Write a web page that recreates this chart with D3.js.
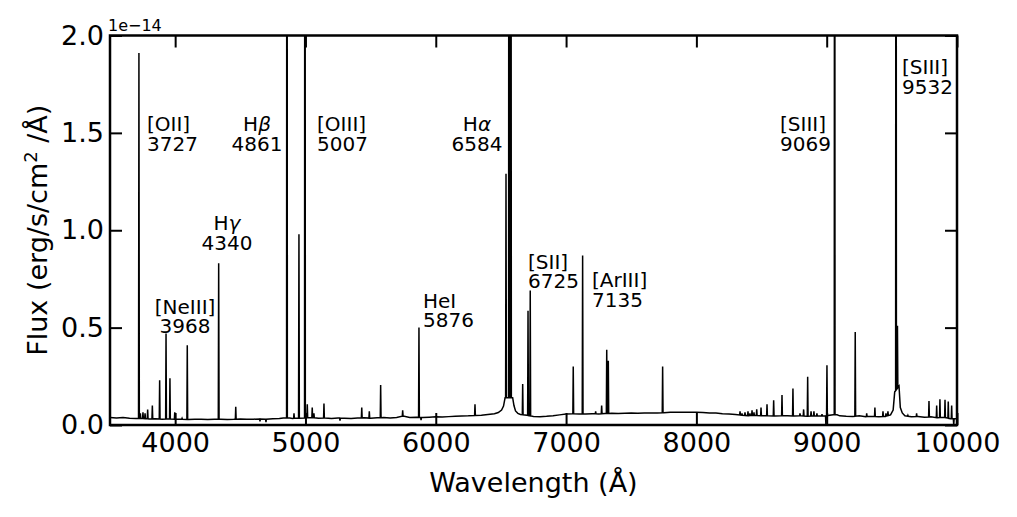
<!DOCTYPE html>
<html>
<head>
<meta charset="utf-8">
<script src="https://cdn.jsdelivr.net/npm/d3@7"></script>
<style>
  body { margin: 0; background: #fff; }
  text { font-family: "DejaVu Sans", sans-serif; fill: #000; }
</style>
</head>
<body>
<svg id="chart" width="1017" height="517"></svg>
<script>
// flux unit: 1e-14 erg/s/cm2/A

// continuum knots (wavelength in A, flux)
var contWave = [3500,3550,3600,3650,3700,3750,3800,3850,3900,3950,4000,4050,4100,4150,4200,4250,4300,4350,4400,4450,
  4500,4550,4600,4650,4700,4750,4800,4830,4880,4900,4950,5050,5100,5150,5200,5250,5300,5350,5400,5450,
  5500,5550,5600,5650,5700,5750,5800,5850,5900,5950,6000,6050,6100,6150,6200,6250,6300,6350,6400,6450,
  6480,6505,6520,6532,6590,6600,6612,6630,6650,6700,6750,6800,6850,6900,6950,7000,7050,7100,7150,7200,
  7250,7300,7350,7400,7450,7500,7550,7600,7650,7700,7750,7800,7850,7900,7950,8000,8050,8100,8150,8200,
  8250,8300,8350,8400,8450,8500,8550,8600,8650,8700,8750,8800,8850,8900,8950,9000,9050,9080,9100,9150,
  9200,9250,9300,9350,9400,9450,9490,9510,9522,9555,9565,9580,9600,9650,9700,9750,9800,9850,9900,9950,10000];
var contFlux = [0.038,0.036,0.039,0.035,0.033,0.034,0.031,0.032,0.030,0.031,0.029,0.030,0.028,0.029,0.030,0.028,0.029,0.030,0.028,0.029,
  0.031,0.029,0.030,0.031,0.030,0.032,0.033,0.036,0.036,0.034,0.035,0.038,0.035,0.036,0.034,0.036,0.035,0.034,0.036,0.037,
  0.035,0.037,0.038,0.036,0.038,0.046,0.039,0.040,0.038,0.040,0.042,0.041,0.043,0.045,0.046,0.047,0.049,0.050,0.054,0.058,
  0.064,0.077,0.097,0.140,0.140,0.100,0.072,0.060,0.054,0.050,0.044,0.043,0.045,0.048,0.052,0.056,0.058,0.057,0.056,0.058,
  0.057,0.059,0.060,0.059,0.060,0.061,0.060,0.062,0.061,0.062,0.063,0.065,0.066,0.065,0.066,0.065,0.064,0.062,0.061,0.058,
  0.056,0.054,0.050,0.048,0.049,0.047,0.048,0.046,0.048,0.047,0.046,0.048,0.045,0.047,0.046,0.048,0.052,0.052,0.047,0.045,
  0.044,0.047,0.043,0.044,0.042,0.044,0.052,0.077,0.170,0.200,0.090,0.062,0.047,0.042,0.044,0.040,0.042,0.037,0.040,0.032,0.032];

// emission (and a few absorption) features: centre wavelength and peak flux
var lineWave = [3722,3733,3753,3769,3789,3825,3881,3930,3960,3997,4053,4093,4334,4465,4651,4697,
  4858,4912,4950,4996,5014,5052,5065,5142,5265,5432,5490,5577,5746,5871,5887,6301,
  6539,6562,6577,6667,6708,6725,7055,7127,7227,7273,7312,7324,7741,
  8335,8350,8373,8396,8411,8427,8442,8463,8496,8542,8593,8657,8741,8795,8823,8854,8880,8902,8925,8964,
  8994,9002,9061,9219,9307,9370,9432,9455,9470,9532,9543,9623,9690,9785,9844,9869,9908,9933,9959,9975];
var linePeak = [1.91,0.06,0.065,0.06,0.08,0.10,0.23,0.47,0.24,0.065,0.035,0.41,0.83,0.094,0.018,0.015,
  6.0,0.06,0.98,6.0,0.107,0.09,0.06,0.11,0.022,0.09,0.07,0.205,0.075,0.50,0.025,0.106,
  1.29,8.0,4.0,0.21,0.586,0.69,0.30,0.87,0.07,0.10,0.386,0.33,0.30,
  0.07,0.06,0.065,0.07,0.06,0.075,0.065,0.08,0.09,0.106,0.127,0.154,0.187,0.06,0.08,0.248,0.07,0.07,0.06,0.055,
  0.0,0.307,6.0,0.478,0.06,0.09,0.07,0.06,0.07,6.0,0.51,0.05,0.06,0.123,0.10,0.132,0.13,0.12,0.10,0.0];

var xTicks = [4000,5000,6000,7000,8000,9000,10000];
var yTicks = [0.0,0.5,1.0,1.5,2.0];

// line identifications: name, wavelength text, anchor (A, flux of 2nd-line baseline)
var labelName = ["[OII]","H\u03b2","[OIII]","H\u03b1","H\u03b3","[NeIII]","HeI","[SII]","[ArIII]","[SIII]","[SIII]"];
var labelNum = ["3727","4861","5007","6584","4340","3968","5876","6725","7135","9069","9532"];
var labelX = [3784,4628,5089,6316,4398,4076,5902,6708,7199,8642,9578];
var labelY = [1.407,1.407,1.407,1.407,0.899,0.472,0.503,0.703,0.606,1.407,1.70];
var labelAlign = ["start","middle","start","middle","middle","middle","start","start","start","start","start"];

var svg = d3.select("#chart");
var margin = {left: 110, right: 60, top: 35.5, bottom: 92};
var W = 1017, H = 517;

var x = d3.scaleLinear().domain([3500, 10000]).range([margin.left, W - margin.right]);
var y = d3.scaleLinear().domain([0, 2.0]).range([H - margin.bottom, margin.top]);

svg.append("clipPath").attr("id", "clip")
  .append("rect")
  .attr("x", x(3500)).attr("y", y(2.0))
  .attr("width", x(10000) - x(3500)).attr("height", y(0) - y(2.0));

// build spectrum vertices from continuum + narrow lines
var halfW = 3;
var contAt = function(w) {
  var i = d3.bisectRight(contWave, w);
  if (i <= 0) return contFlux[0];
  if (i >= contWave.length) return contFlux[contWave.length - 1];
  var t = (w - contWave[i-1]) / (contWave[i] - contWave[i-1]);
  return contFlux[i-1] + t * (contFlux[i] - contFlux[i-1]);
};
var pts = [];
contWave.forEach(function(w, i) {
  var inside = lineWave.some(function(lw) { return Math.abs(lw - w) <= halfW; });
  if (!inside) pts.push([w, contFlux[i]]);
});
lineWave.forEach(function(w, i) {
  pts.push([w - halfW, contAt(w - halfW)]);
  pts.push([w, linePeak[i]]);
  pts.push([w + halfW, contAt(w + halfW)]);
});
pts.sort(function(a, b) { return a[0] - b[0]; });

var line = d3.line().x(function(d) { return x(d[0]); }).y(function(d) { return y(d[1]); });

svg.append("path")
  .datum(pts)
  .attr("clip-path", "url(#clip)")
  .attr("d", line)
  .attr("fill", "none")
  .attr("stroke", "#000")
  .attr("stroke-width", 1.5)
  .attr("stroke-linejoin", "miter");

// axes, ticks pointing inwards on all four sides
var fmtY = d3.format(".1f");
var fmtX = d3.format("d");
var gx = svg.append("g").attr("transform", "translate(0," + y(0) + ")")
  .call(d3.axisBottom(x).tickValues(xTicks).tickSize(-12).tickSizeOuter(0).tickPadding(8).tickFormat(fmtX));
var gxt = svg.append("g").attr("transform", "translate(0," + y(2.0) + ")")
  .call(d3.axisTop(x).tickValues(xTicks).tickSize(-12).tickSizeOuter(0).tickFormat(""));
var gy = svg.append("g").attr("transform", "translate(" + x(3500) + ",0)")
  .call(d3.axisLeft(y).tickValues(yTicks).tickSize(-12).tickSizeOuter(0).tickPadding(6).tickFormat(fmtY));
var gyr = svg.append("g").attr("transform", "translate(" + x(10000) + ",0)")
  .call(d3.axisRight(y).tickValues(yTicks).tickSize(-12).tickSizeOuter(0).tickFormat(""));

[gx, gxt, gy, gyr].forEach(function(g) {
  g.select(".domain").remove();
  g.selectAll(".tick line").attr("stroke", "#000").attr("stroke-width", 2);
  g.selectAll(".tick text").style("font-family", "DejaVu Sans").style("font-size", "27px").attr("fill", "#000");
});

// frame
svg.append("rect")
  .attr("x", x(3500)).attr("y", y(2.0))
  .attr("width", x(10000) - x(3500)).attr("height", y(0) - y(2.0))
  .attr("fill", "none").attr("stroke", "#000").attr("stroke-width", 2.5);

// offset text
svg.append("text").attr("x", x(3500) - 2).attr("y", 31)
  .style("font-size", "16px").text("1e\u221214");

// axis labels
svg.append("text").attr("x", (x(3500) + x(10000)) / 2).attr("y", 492)
  .attr("text-anchor", "middle").style("font-size", "27px")
  .text("Wavelength (\u00c5)");

var yl = svg.append("text")
  .attr("transform", "translate(47," + ((y(0) + y(2.0)) / 2) + ") rotate(-90)")
  .attr("text-anchor", "middle").style("font-size", "27px");
yl.append("tspan").text("Flux (erg/s/cm");
yl.append("tspan").attr("dy", -10).style("font-size", "18px").text("2");
yl.append("tspan").attr("dy", 10).text(" /\u00c5)");

// line identifications, two lines each in one text element
labelName.forEach(function(name, i) {
  var px = x(labelX[i]), py = y(labelY[i]);
  var t = svg.append("text")
    .attr("x", px).attr("y", py - 19.5)
    .attr("text-anchor", labelAlign[i]).style("font-size", "20px");
  var first = t.append("tspan").attr("x", px);
  if (name.charAt(0) === "H" && name.length === 2) {
    first.append("tspan").text("H");
    first.append("tspan").style("font-style", "italic").text(name.charAt(1));
  } else {
    first.text(name);
  }
  t.append("tspan").attr("x", px).attr("dy", 19.5).text(labelNum[i]);
});
</script>
</body>
</html>
